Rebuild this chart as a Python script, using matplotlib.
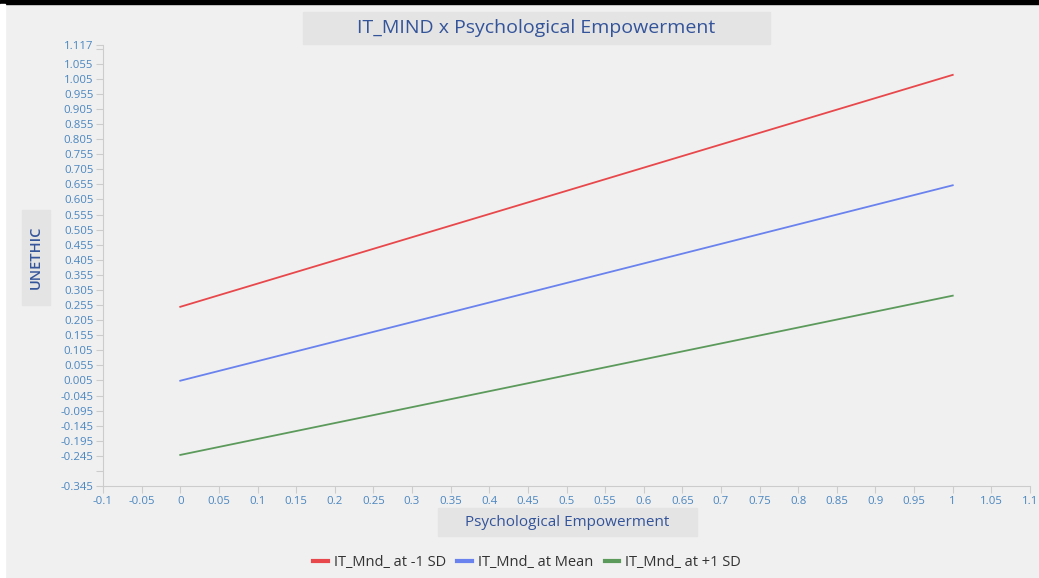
import matplotlib.pyplot as plt
from matplotlib.patches import Rectangle

# data
x_vals = [0, 1]
low_sd = [0.249, 1.018]
mean_ = [0.004, 0.652]
high_sd = [-0.242, 0.286]
series_names = ['IT_Mnd_ at -1 SD', 'IT_Mnd_ at Mean', 'IT_Mnd_ at +1 SD']
series_colors = ['#e8484b', '#6a82ee', '#5c9a5c']

x_ticks = [round(-0.1 + 0.05 * i, 2) for i in range(25)]
y_ticks = [1.117] + [round(1.105 - 0.05 * i, 3) for i in range(29)] + [-0.345]
hidden_y = [1.105, -0.295]

plt.rcParams['font.family'] = ['Open Sans', 'DejaVu Sans']
W, H = 1039, 578
fig = plt.figure(figsize=(W / 100, H / 100), dpi=100)
fig.patch.set_facecolor('#f0f0f0')

def px_rect(x0, y0, x1, y1, color, z=0):
    fig.patches.append(Rectangle((x0 / W, 1 - y1 / H), (x1 - x0) / W, (y1 - y0) / H,
                                 transform=fig.transFigure, color=color, zorder=z))

px_rect(0, 0, W, 4, 'black')
px_rect(0, 4, 5, H, 'white')
px_rect(303, 12, 770, 44, '#e4e4e4')
px_rect(22, 210, 50, 305, '#e4e4e4')
px_rect(438, 508, 697, 536, '#e4e4e4')

txt = '#34549a'
fig.text(536 / W, 1 - 28 / H, 'IT_MIND x Psychological Empowerment', ha='center', va='center',
         fontsize=14, color=txt, weight='medium')
fig.text(36 / W, 1 - 257 / H, 'UNETHIC', ha='center', va='center', rotation=90,
         fontsize=10.5, color=txt, weight='semibold')
fig.text(567 / W, 1 - 522 / H, 'Psychological Empowerment', ha='center', va='center',
         fontsize=11, color=txt, weight='medium')

ax = fig.add_axes([103 / W, 1 - 486 / H, (1030 - 103) / W, (486 - 45) / H])
ax.set_facecolor('#f0f0f0')
lines = []
for vals, name, c in zip([low_sd, mean_, high_sd], series_names, series_colors):
    ln, = ax.plot(x_vals, vals, color=c, lw=1.3, label=name)
    lines.append(ln)

ax.set_xlim(-0.1, 1.1)
ax.set_ylim(-0.345, 1.117)
ax.set_xticks(x_ticks)
ax.set_xticklabels([('%g' % v) for v in x_ticks])
ax.set_yticks(y_ticks)
ax.set_yticklabels(['' if v in hidden_y else ('%.3f' % v) for v in y_ticks])
for s in ['top', 'right']:
    ax.spines[s].set_visible(False)
for s in ['left', 'bottom']:
    ax.spines[s].set_color('#cccccc')
ax.tick_params(colors='#cccccc', labelcolor='#4a86c0', labelsize=8.2, length=5, pad=2)
for lab in ax.get_xticklabels() + ax.get_yticklabels():
    lab.set_fontweight('medium')

leg = fig.legend(handles=lines, loc='center', bbox_to_anchor=(527 / W, 1 - 563 / H), ncol=3,
                 frameon=False, fontsize=10.5, handlelength=1.0, handletextpad=0.4,
                 columnspacing=0.8, labelcolor='#333333')
for h in leg.get_lines():
    h.set_linewidth(3)

fig.savefig('out.png', dpi=100, facecolor=fig.get_facecolor())
